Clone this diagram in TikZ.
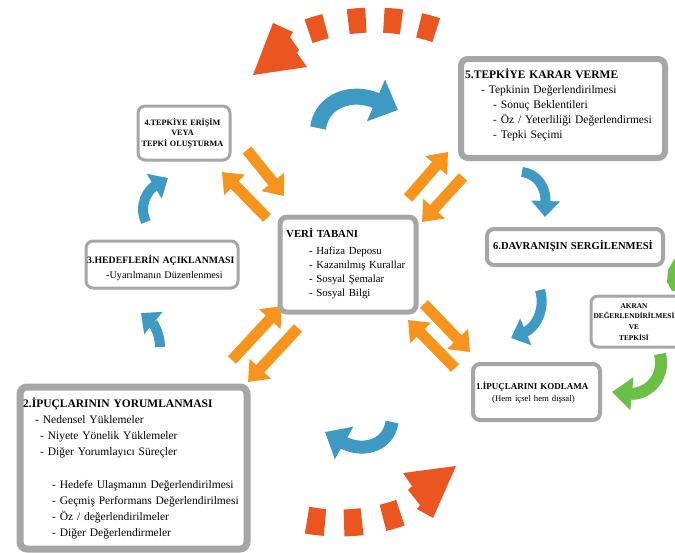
\documentclass[tikz,border=0pt]{standalone}
\usepackage{fontspec}
\setmainfont{Liberation Serif}
\usetikzlibrary{arrows.meta}
\definecolor{boxgray}{HTML}{A6A6A6}
\definecolor{blu}{HTML}{3F9AC3}
\definecolor{org}{HTML}{F7941D}
\definecolor{dashorg}{HTML}{EA5520}
\definecolor{grn}{HTML}{6DBE45}
\newcommand{\myfs}[2]{\fontsize{#1}{#2}\selectfont}
\begin{document}
\begin{tikzpicture}[x=1pt,y=-1pt,
  box/.style={draw=boxgray, rounded corners=7pt, fill=white, anchor=north west, inner sep=0pt},
  txt/.style={inner sep=0pt, anchor=base west, align=left, text width=#1},
  ctxt/.style={inner sep=0pt, anchor=base, align=center, text width=#1},
  oarr/.style={draw=org, line width=11pt, -{Triangle[length=18pt,width=28pt]}},
  dashseg/.style={draw=dashorg, line width=#1}
]
\useasboundingbox (0,0) rectangle (675,552);
\clip (0,0) rectangle (675,552);

% ---- dashed orange arcs ----
\foreach \a in {-74,-84.5,-95,-107}
  \draw[dashseg=25pt] ([shift={(\a-2.6:195)}]374,215) arc[start angle=\a-2.6, end angle=\a+2.6, radius=195];
\fill[dashorg] (273,23) -- (293,32) -- (290,37) -- (299,50) -- (297,53) -- (307,67) -- (253,75) -- cycle;
\foreach \a in {73.6,85.8,97.3}
  \draw[dashseg=27pt] ([shift={(\a-2.8:185)}]339.5,338) arc[start angle=\a-2.8, end angle=\a+2.8, radius=185];
\fill[dashorg] (456,466) -- (403,473) -- (412,486) -- (408,490) -- (420,505) -- (417,509) -- (433,518) -- cycle;

% ---- blue cycle arrows ----
\draw[blu, line width=16pt, -{Triangle[length=24pt,width=44pt]}] (318,128) .. controls (322,100) and (352,90) .. (398,110);
\draw[blu, line width=10pt, -{Triangle[length=16pt,width=28pt]}] (522,172) .. controls (538,174) and (546,188) .. (545,217);
\draw[blu, line width=10pt, -{Triangle[length=16pt,width=28pt]}] (540,290) .. controls (546,310) and (535,328) .. (511,338);
\draw[blu, line width=13pt, -{Triangle[length=22pt,width=36pt]}] (392,422) .. controls (388,448) and (360,452) .. (325,432);
\draw[blu, line width=10pt, -{Triangle[length=16pt,width=28pt]}] (160,347) .. controls (160,332) and (152,322) .. (141,313);
\draw[blu, line width=10pt, -{Triangle[length=16pt,width=28pt]}] (146,222) .. controls (138,205) and (148,190) .. (168,178);

% ---- green arrows ----
\draw[grn, line width=12pt, -{Triangle[length=20pt,width=32pt]}] (660,354) .. controls (666,380) and (645,395) .. (612,392);
\fill[grn] (675,258) -- (668,270) -- (667,282) -- (672,291) -- (675,291) -- cycle;

% ---- orange double arrows ----
\draw[oarr] (247,150) -- (284,196);
\draw[oarr] (267,218) -- (222,172);
\draw[oarr] (408,198) -- (448,152);
\draw[oarr] (463,177) -- (422,222);
\draw[oarr] (232,360) -- (282,306);
\draw[oarr] (298,328) -- (248,382);
\draw[oarr] (455,368) -- (408,320);
\draw[oarr] (424,304) -- (470,352);

% ---- boxes ----
\node[box, line width=6pt, minimum width=204pt, minimum height=99pt] (b5) at (458,56) {};
\node[box, line width=3pt, minimum width=92pt, minimum height=54pt] (b4) at (136.5,104.5) {};
\node[box, line width=3pt, minimum width=152pt, minimum height=47pt] (b3) at (84.5,239.5) {};
\node[box, line width=5pt, minimum width=136pt, minimum height=95pt] (bc) at (277.5,214.5) {};
\node[box, line width=4pt, minimum width=176pt, minimum height=36pt] (b6) at (485,227) {};
\node[box, line width=3pt, minimum width=100pt, minimum height=51pt] (ba) at (589.5,294.5) {};
\node[box, line width=4pt, minimum width=127pt, minimum height=56pt] (b1) at (471,362) {};
\node[box, line width=7pt, minimum width=227pt, minimum height=162pt] (b2) at (16.5,383.5) {};

% ---- texts ----
\node[txt=195pt, font=\myfs{11.5}{15}] (t5) at (465,78) {\textbf{5.TEPKİYE KARAR VERME}\\
\hspace*{16pt}- Tepkinin Değerlendirilmesi\\
\hspace*{28pt}- Sonuç Beklentileri\\
\hspace*{28pt}- Öz / Yeterliliği Değerlendirmesi\\
\hspace*{28pt}- Tepki Seçimi};

\node[ctxt=92pt, font=\myfs{8.2}{10.5}\bfseries] (t4) at (182.5,125) {4.TEPKİYE ERİŞİM\\VEYA\\TEPKİ OLUŞTURMA};

\node[txt=180pt, font=\myfs{9.8}{15}] (t3) at (87,263) {\textbf{3.HEDEFLERİN AÇIKLANMASI}\\
\hspace*{19pt}{\myfs{10.2}{15}-Uyarılmanın Düzenlenmesi}};

\node[txt=130pt, font=\myfs{10.8}{14}] (tc) at (286,237) {\textbf{VERİ TABANI}\\[3pt]
\hspace*{23pt}- Hafiza Deposu\\
\hspace*{23pt}- Kazanılmış Kurallar\\
\hspace*{23pt}- Sosyal Şemalar\\
\hspace*{23pt}- Sosyal Bilgi};

\node[ctxt=176pt, font=\myfs{10.6}{13}\bfseries] (t6) at (573,249) {6.DAVRANIŞIN SERGİLENMESİ};

\node[ctxt=100pt, font=\myfs{7.3}{10.7}\bfseries] (ta) at (634,308) {AKRAN\\DEĞERLENDİRİLMESİ\\VE\\TEPKİSİ};

\node[txt=125pt, font=\myfs{9}{12}] (t1) at (476,389) {\textbf{1.İPUÇLARINI KODLAMA}\\
\hspace*{16pt}{\myfs{8.7}{12}(Hem içsel hem dışsal)}};

\node[txt=225pt, font=\myfs{11.5}{16}] (t2) at (23,407) {\textbf{2.İPUÇLARININ YORUMLANMASI}\\
\hspace*{12pt}- Nedensel Yüklemeler\\
\hspace*{17pt}- Niyete Yönelik Yüklemeler\\
\hspace*{17pt}- Diğer Yorumlayıcı Süreçler\\[17pt]
\hspace*{29pt}- Hedefe Ulaşmanın Değerlendirilmesi\\
\hspace*{29pt}- Geçmiş Performans Değerlendirilmesi\\
\hspace*{29pt}- Öz / değerlendirilmeler\\
\hspace*{29pt}- Diğer Değerlendirmeler};
\end{tikzpicture}
\end{document}
